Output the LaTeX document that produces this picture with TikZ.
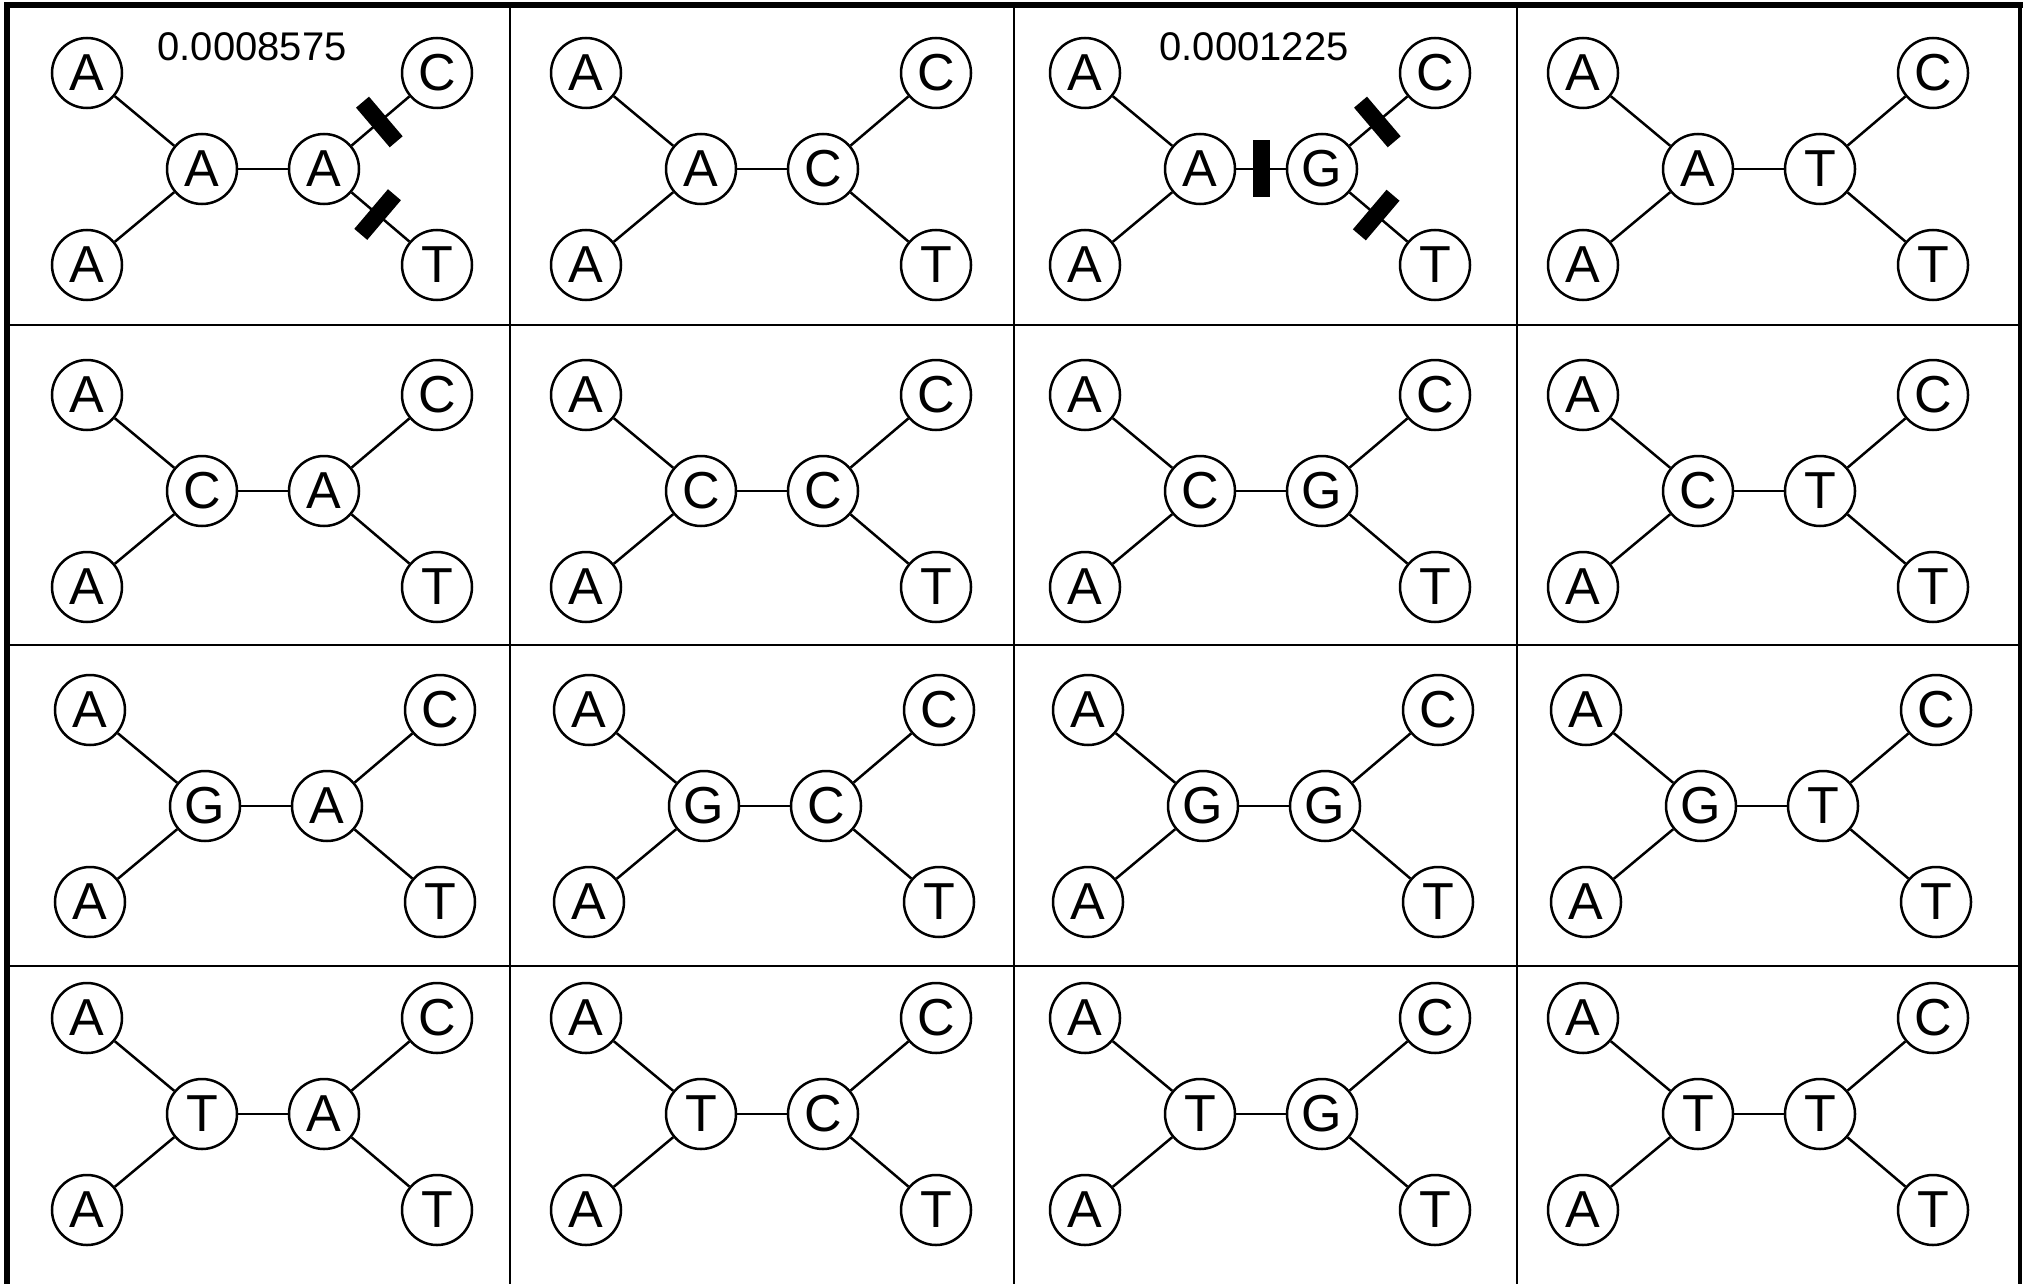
\documentclass[tikz,border=0pt]{standalone}
\usepackage{fontspec}
\setmainfont{Liberation Sans}
\begin{document}
\begin{tikzpicture}[x=1pt,y=-1pt,
  base/.style={circle,draw,line width=2.5pt,minimum size=70pt,inner sep=0pt,font=\fontsize{52}{52}\selectfont},
  link/.style={line width=2.5pt},
  cut/.style={rectangle,fill=black,draw=none,sloped,minimum width=17pt,minimum height=52pt,inner sep=0pt},
  gridline/.style={line width=2.5pt},
  frameline/.style={line width=6pt},
  val/.style={font=\fontsize{40}{40}\selectfont,inner sep=0pt}]
\useasboundingbox (0,0) rectangle (2023,1284);
\fill[white] (0,0) rectangle (2023,1284);
% grid
\foreach \gx in {510,1014,1517} \draw[gridline] (\gx,5) -- (\gx,1284);
\foreach \gy in {325,645,966} \draw[gridline] (7,\gy) -- (2020,\gy);
% frame
\draw[frameline] (7,1284) -- (7,5.5) -- (2023,5.5);
\draw[line width=4pt] (2020,5) -- (2020,1284);
% trees
\foreach \r/\lab/\ty/\my/\by/\dx in {1/A/73/169/265/0, 2/C/395/491/587/0, 3/G/710/806/902/3, 4/T/1018/1114/1210/0} {
  \foreach \c/\clab/\cx in {1/A/87, 2/C/586, 3/G/1085, 4/T/1583} {
    \pgfmathsetmacro\xx{\cx+\dx}
    \node[base] (tl\r\c) at (\xx,\ty) {A};
    \node[base] (bl\r\c) at (\xx,\by) {A};
    \node[base] (p\r\c) at (\xx+115,\my) {\lab};
    \node[base] (q\r\c) at (\xx+237,\my) {\clab};
    \node[base] (tr\r\c) at (\xx+350,\ty) {C};
    \node[base] (br\r\c) at (\xx+350,\by) {T};
    \draw[link] (tl\r\c) -- (p\r\c);
    \draw[link] (bl\r\c) -- (p\r\c);
    \draw[link] (p\r\c) -- (q\r\c);
    \draw[link] (q\r\c) -- (tr\r\c);
    \draw[link] (q\r\c) -- (br\r\c);
  }
}
% values
\node[val] (v11) at (252,47) {0.0008575};
\node[val] (v13) at (1254,47) {0.0001225};
% mutation bars
\path (q11) -- (tr11) node[cut,pos=0.48] (m1) {};
\path (q11) -- (br11) node[cut,pos=0.45] (m2) {};
\path (p13) -- (q13) node[cut,pos=0.5,minimum height=57pt] (m3) {};
\path (q13) -- (tr13) node[cut,pos=0.48] (m4) {};
\path (q13) -- (br13) node[cut,pos=0.46] (m5) {};
\end{tikzpicture}
\end{document}
